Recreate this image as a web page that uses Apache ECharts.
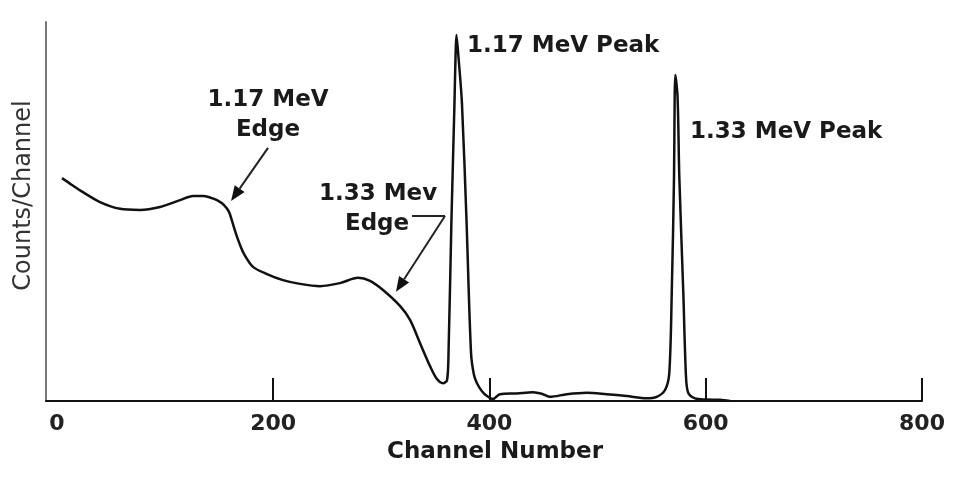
<!DOCTYPE html>
<html>
<head>
<meta charset="utf-8">
<script src="https://cdn.jsdelivr.net/npm/echarts@6/dist/echarts.min.js"></script>
<style>
html,body{margin:0;padding:0;background:#fff;}
#chart{width:954px;height:481px;}
</style>
</head>
<body>
<div id="chart"></div>
<script>
// ---- data (channel number vs counts/channel, relative units) ----
const channels = [4.8, 14.0, 24.2, 39.9, 58.4, 76.9, 95.4, 113.9, 125.9, 135.2, 141.6, 148.1, 154.6, 159.2, 162.0, 165.7, 169.4, 173.1, 181.4, 194.3, 209.1, 224.9, 243.4, 261.8, 278.5, 289.6, 301.6, 317.3, 326.6, 335.8, 345.1, 351.5, 357.1, 360.8, 362.2, 364.9, 367.7, 368.6, 369.5, 371.6, 374.6, 378.8, 383.0, 385.7, 388.5, 393.1, 397.8, 403.3, 409.8, 425.2, 440.3, 449.5, 456.0, 471.5, 490.0, 508.4, 526.9, 545.4, 554.7, 562.4, 566.3, 568.6, 570.7, 571.3, 571.9, 574.0, 575.6, 579.3, 581.8, 583.9, 590.1, 600.3, 613.2, 622.5];
const counts = [58.8, 57.0, 55.1, 52.5, 50.7, 50.4, 51.2, 53.0, 54.1, 54.1, 53.7, 53.0, 51.7, 49.9, 47.5, 44.1, 41.2, 38.8, 35.4, 33.5, 31.9, 30.9, 30.3, 31.1, 32.5, 31.7, 29.3, 25.1, 21.4, 15.3, 9.2, 5.8, 4.7, 5.5, 12.7, 47.8, 78.6, 90.0, 96.6, 90.0, 78.6, 47.8, 12.7, 6.9, 4.7, 2.6, 1.3, 0.5, 1.8, 2.0, 2.3, 1.8, 1.1, 1.8, 2.2, 1.8, 1.3, 0.7, 1.1, 2.9, 7.3, 28.5, 59.1, 80.0, 86.0, 80.0, 59.1, 28.5, 6.3, 2.1, 0.7, 0.4, 0.3, 0.0];
const xTickLabels = [0, 200, 400, 600, 800];
const xTickMarks = [200, 400, 600, 800];

// ---- annotations (data coordinates) ----
const labelTexts = [
  {text: '1.17 MeV', at: [195.3, 79.4], align: 'center'},
  {text: 'Edge', at: [195.3, 71.5], align: 'center'},
  {text: '1.33 Mev', at: [297.0, 54.6], align: 'center'},
  {text: 'Edge', at: [296.1, 46.7], align: 'center'},
  {text: '1.17 MeV Peak', at: [379.3, 93.7], align: 'left'},
  {text: '1.33 MeV Peak', at: [585.5, 71.0], align: 'left'}
];
const plainLines = [
  [[328.4, 48.8], [358.9, 48.8]]
];
const arrows = [
  [[195.3, 66.8], [161.1, 52.8]],
  [[358.9, 48.8], [313.6, 28.8]]
];

const FONT = '"DejaVu Sans", sans-serif';
const chart = echarts.init(document.getElementById('chart'), null, {renderer: 'canvas'});
const seriesData = channels.map((c, i) => [c, counts[i]]);

chart.setOption({
  animation: false,
  backgroundColor: '#ffffff',
  grid: {left: 46, right: 32, top: 22, bottom: 80, containLabel: false},
  xAxis: {
    type: 'value', min: -10, max: 800,
    axisLine: {onZero: false, lineStyle: {color: '#111', width: 2}},
    axisTick: {show: true, inside: true, length: 23, customValues: xTickMarks, lineStyle: {color: '#111', width: 2}},
    axisLabel: {customValues: xTickLabels, margin: 12, fontSize: 22, fontWeight: 'bold', fontFamily: FONT, color: '#222'},
    splitLine: {show: false},
    name: 'Channel Number', nameLocation: 'middle', nameGap: 40,
    nameTextStyle: {fontSize: 23, fontWeight: 'bold', fontFamily: FONT, color: '#1a1a1a', padding: [0, 0, 0, 22]}
  },
  yAxis: {
    type: 'value', min: 0, max: 100,
    axisLine: {show: true, onZero: false, lineStyle: {color: '#777', width: 2}},
    axisTick: {show: false}, axisLabel: {show: false}, splitLine: {show: false},
    name: 'Counts/Channel', nameLocation: 'middle', nameGap: 10,
    nameTextStyle: {fontSize: 24, fontFamily: FONT, color: '#333', padding: [0, 0, 0, 32]}
  },
  series: [{
    type: 'line', data: seriesData, symbol: 'none', smooth: 0.3,
    lineStyle: {color: '#111', width: 2.5}
  }]
});

function px(p) { return chart.convertToPixel({gridIndex: 0}, p); }
const g = [];
labelTexts.forEach(l => {
  const p = px(l.at);
  g.push({type: 'text', silent: true, style: {text: l.text, x: p[0], y: p[1], fill: '#1a1a1a',
    fontSize: 23, fontWeight: 'bold', fontFamily: FONT, align: l.align, verticalAlign: 'middle'}});
});
plainLines.forEach(l => {
  const a = px(l[0]), b = px(l[1]);
  g.push({type: 'line', silent: true, shape: {x1: a[0], y1: a[1], x2: b[0], y2: b[1]}, style: {stroke: '#222', lineWidth: 2}});
});
arrows.forEach(l => {
  const a = px(l[0]), b = px(l[1]);
  const dx = b[0] - a[0], dy = b[1] - a[1], len = Math.hypot(dx, dy);
  const ux = dx / len, uy = dy / len, hl = 15, hw = 6;
  const bx = b[0] - ux * hl, by = b[1] - uy * hl;
  g.push({type: 'line', silent: true, shape: {x1: a[0], y1: a[1], x2: bx, y2: by}, style: {stroke: '#222', lineWidth: 2}});
  g.push({type: 'polygon', silent: true, shape: {points: [[b[0], b[1]], [bx - uy * hw, by + ux * hw], [bx + uy * hw, by - ux * hw]]}, style: {fill: '#111'}});
});
chart.setOption({graphic: g});
</script>
</body>
</html>
